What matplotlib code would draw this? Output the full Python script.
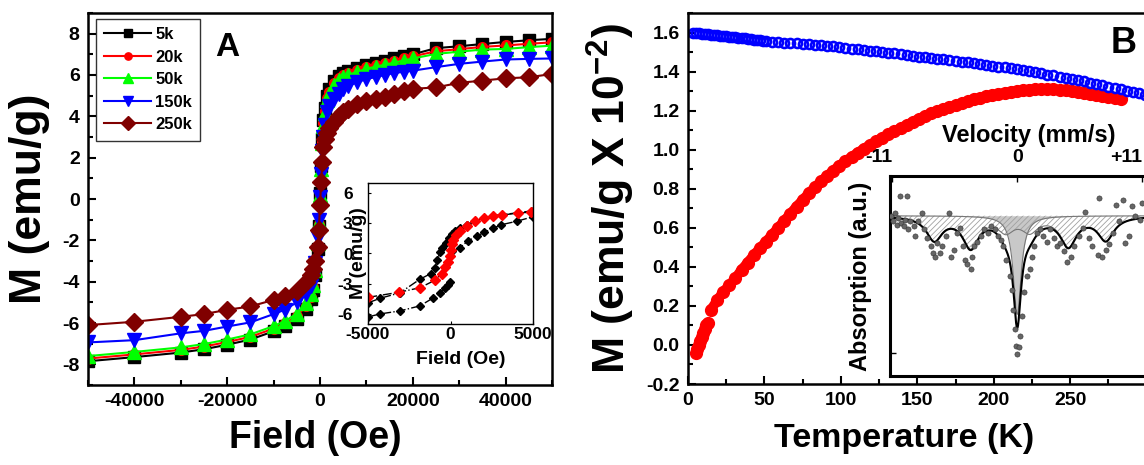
import matplotlib.pyplot as plt
import numpy as np
from matplotlib.ticker import FormatStrFormatter, MultipleLocator

plt.rcParams["font.family"] = ["Liberation Sans", "DejaVu Sans"]
plt.rcParams["font.weight"] = "bold"
plt.rcParams["axes.labelweight"] = "bold"
plt.rcParams["axes.unicode_minus"] = False
plt.rcParams["mathtext.fontset"] = "custom"
plt.rcParams["mathtext.rm"] = "Liberation Sans:bold"
plt.rcParams["mathtext.bf"] = "Liberation Sans:bold"
plt.rcParams["hatch.linewidth"] = 0.6

# ---- (A) M-H loops ----
fields = [-50000, -40000, -30000, -25000, -20000, -15000, -10000, -7500, -5000,
          -3000, -2000, -1500, -1000, -500, -250, 0, 250, 500, 750, 1000, 1500,
          2000, 3000, 4000, 5000, 6000, 8000, 10000, 12000, 14000, 16000, 18000,
          20000, 25000, 30000, 35000, 40000, 45000, 50000]
m_5k = [-7.85, -7.65, -7.43, -7.27, -7.05, -6.80, -6.40, -6.15, -5.80, -5.30,
        -4.85, -4.40, -3.70, -2.40, -1.30, 0.30, 1.60, 2.90, 3.80, 4.40, 5.00,
        5.30, 5.70, 5.95, 6.10, 6.20, 6.35, 6.50, 6.60, 6.70, 6.80, 6.90, 7.00,
        7.30, 7.39, 7.50, 7.60, 7.68, 7.75]
m_20k = [-7.72, -7.52, -7.30, -7.14, -6.92, -6.67, -6.27, -6.02, -5.67, -5.17,
         -4.72, -4.27, -3.57, -2.27, -1.20, 0.25, 1.52, 2.80, 3.68, 4.28, 4.90,
         5.20, 5.60, 5.85, 6.00, 6.10, 6.25, 6.40, 6.50, 6.60, 6.70, 6.80, 6.90,
         7.15, 7.25, 7.36, 7.43, 7.51, 7.58]
m_50k = [-7.60, -7.40, -7.18, -7.02, -6.80, -6.55, -6.15, -5.90, -5.55, -5.05,
         -4.60, -4.15, -3.45, -2.15, -1.10, 0.20, 1.45, 2.70, 3.55, 4.15, 4.80,
         5.10, 5.50, 5.75, 5.90, 6.00, 6.15, 6.30, 6.40, 6.50, 6.60, 6.70, 6.80,
         7.02, 7.13, 7.23, 7.26, 7.35, 7.42]
m_150k = [-6.94, -6.83, -6.50, -6.38, -6.17, -5.97, -5.57, -5.35, -5.00, -4.60,
          -4.20, -3.80, -3.10, -1.90, -1.00, 0.10, 1.20, 2.30, 3.00, 3.60, 4.20,
          4.50, 4.85, 5.10, 5.30, 5.45, 5.65, 5.80, 5.90, 6.00, 6.10, 6.15, 6.21,
          6.38, 6.54, 6.65, 6.75, 6.78, 6.80]
m_250k = [-6.10, -5.94, -5.70, -5.57, -5.36, -5.20, -4.88, -4.68, -4.44, -4.03,
          -3.70, -3.39, -3.00, -2.30, -1.50, -0.30, 0.80, 1.80, 2.50, 2.90, 3.20,
          3.45, 3.72, 4.00, 4.20, 4.36, 4.58, 4.75, 4.85, 4.95, 5.10, 5.22, 5.33,
          5.40, 5.62, 5.73, 5.84, 5.89, 6.05]
loop_labels = ["5k", "20k", "50k", "150k", "250k"]

# low-field inset of panel A
ins_red_h = [-4980, -3100, -1850, -940, -530, -330, -170, -60, 20, 80, 180, 340,
             580, 985, 1490, 2000, 2600, 3100, 4100, 4900]
ins_red_m = [-4.35, -3.84, -3.40, -2.65, -2.00, -1.35, -0.80, -0.20, 0.35, 0.90,
             1.38, 1.87, 2.20, 2.70, 3.20, 3.50, 3.75, 3.80, 4.03, 4.10]
ins_up_h = [5000, 4100, 3100, 2600, 2000, 1490, 985, 580, 300, 100, -100, -300,
            -500, -640, -800, -940, -1200, -1850, -3060, -4270, -5000]
ins_up_m = [4.25, 4.05, 3.85, 3.75, 3.50, 3.25, 2.85, 2.50, 2.20, 1.90, 1.50,
            1.00, 0.50, 0.10, -0.60, -1.40, -2.00, -2.55, -3.90, -4.45, -4.90]
ins_lowl_h = [-5000, -4270, -3060, -1850, -1040, -640, -330, -130, -30]
ins_lowl_m = [-6.30, -6.00, -5.70, -5.20, -4.40, -3.90, -3.45, -3.10, -2.80]
ins_lowr_h = [100, 580, 1060, 1590, 2030, 2580, 3040, 4010, 5000]
ins_lowr_m = [0.20, 0.58, 1.26, 1.71, 2.10, 2.50, 2.84, 3.20, 3.65]

# ---- (B) M-T curves ----
fc_t = [3, 5, 7, 9, 11, 13, 15, 17, 19, 21, 23, 25, 27, 29, 31, 33, 35, 37, 39,
        41, 43, 45, 47, 49, 51, 55, 59, 63, 67, 71, 75, 79, 83, 87, 91, 95, 99,
        103, 107, 111, 115, 119, 123, 127, 131, 135, 139, 143, 147, 151, 155,
        159, 163, 167, 171, 175, 179, 183, 187, 191, 195, 199, 203, 207, 211,
        215, 219, 223, 227, 231, 235, 239, 243, 247, 251, 255, 259, 263, 267,
        271, 275, 279, 283, 287, 291, 295, 299]
fc_m = [1.600, 1.598, 1.597, 1.595, 1.593, 1.591, 1.589, 1.588, 1.586, 1.584,
        1.582, 1.580, 1.579, 1.577, 1.575, 1.573, 1.571, 1.570, 1.568, 1.566,
        1.564, 1.562, 1.561, 1.559, 1.557, 1.553, 1.551, 1.548, 1.546, 1.544,
        1.542, 1.540, 1.537, 1.534, 1.531, 1.529, 1.526, 1.522, 1.518, 1.514,
        1.510, 1.506, 1.503, 1.500, 1.497, 1.494, 1.491, 1.486, 1.482, 1.477,
        1.473, 1.469, 1.465, 1.462, 1.458, 1.455, 1.451, 1.447, 1.443, 1.439,
        1.435, 1.431, 1.426, 1.421, 1.416, 1.411, 1.406, 1.401, 1.396, 1.391,
        1.385, 1.380, 1.374, 1.368, 1.363, 1.357, 1.351, 1.344, 1.337, 1.330,
        1.323, 1.316, 1.309, 1.302, 1.295, 1.288, 1.281]
zfc_low_t = [5, 6, 7, 8, 9, 10, 11, 12, 13]
zfc_low_m = [-0.04, -0.02, 0.00, 0.02, 0.04, 0.06, 0.08, 0.10, 0.11]
zfc_t = [15, 19, 23, 27, 31, 35, 39, 43, 47, 51, 55, 59, 63, 67, 71, 75, 79, 83,
         87, 91, 95, 99, 103, 107, 111, 115, 119, 123, 127, 131, 135, 139, 143,
         147, 151, 155, 159, 163, 167, 171, 175, 179, 183, 187, 191, 195, 199,
         203, 207, 211, 215, 219, 223, 227, 231, 235, 239, 243, 247, 251, 255,
         259, 263, 267, 271, 275, 279, 283]
zfc_m = [0.180, 0.228, 0.272, 0.306, 0.342, 0.385, 0.422, 0.460, 0.496, 0.529,
         0.565, 0.601, 0.637, 0.673, 0.709, 0.743, 0.777, 0.808, 0.838, 0.866,
         0.893, 0.919, 0.942, 0.963, 0.985, 1.005, 1.025, 1.044, 1.062, 1.079,
         1.095, 1.111, 1.127, 1.143, 1.159, 1.173, 1.187, 1.198, 1.208, 1.218,
         1.228, 1.238, 1.248, 1.258, 1.266, 1.273, 1.279, 1.285, 1.291, 1.296,
         1.300, 1.304, 1.307, 1.309, 1.310, 1.310, 1.310, 1.307, 1.304, 1.300,
         1.296, 1.291, 1.285, 1.279, 1.273, 1.269, 1.265, 1.262]
temp_ticks = [0, 50, 100, 150, 200, 250]

# Mossbauer spectrum (inset of panel B)
moss_v = [-11.07, -10.9, -10.8, -10.6, -10.5, -10.3, -10.2, -10.0, -9.9, -9.7,
          -9.6, -9.4, -9.1, -9.0, -8.7, -8.4, -8.2, -7.9, -7.6, -7.4, -7.2,
          -7.05, -6.8, -6.6, -6.3, -6.0, -5.8, -5.6, -5.3, -5.0, -4.8, -4.6,
          -4.4, -4.1, -4.0, -3.8, -3.5, -3.2, -2.9, -2.6, -2.3, -2.0, -1.7,
          -1.46, -1.25, -0.95, -0.65, -0.5, -0.36, -0.2, -0.12, 0.0, 0.15, 0.27,
          0.45, 0.62, 0.83, 1.13, 1.28, 1.5, 1.7, 2.0, 2.3, 2.6, 2.9, 3.2, 3.5,
          3.8, 4.1, 4.4, 4.7, 5.0, 5.45, 5.75, 6.0, 6.3, 6.6, 7.1, 7.2, 7.5,
          7.8, 8.1, 8.4, 8.7, 9.0, 9.3, 9.5, 9.8, 10.1, 10.4, 10.8, 11.0]
moss_a = [-0.005, -0.04, 0.02, -0.066, -0.017, 0.146, -0.054, -0.078, -0.029,
          0.146, -0.10, -0.04, -0.078, -0.15, -0.04, 0.02, -0.10, -0.16, -0.22,
          -0.27, -0.30, -0.20, -0.27, -0.22, -0.15, 0.02, -0.30, -0.25, -0.127,
          -0.09, -0.22, -0.32, -0.35, -0.39, -0.30, -0.22, -0.19, -0.15, -0.10,
          -0.127, -0.078, -0.10, -0.15, -0.175, -0.22, -0.32, -0.44, -0.54,
          -0.69, -0.83, -0.95, -1.01, -0.96, -0.88, -0.73, -0.56, -0.44, -0.39,
          -0.30, -0.22, -0.127, -0.10, -0.15, -0.19, -0.10, -0.16, -0.22, -0.20,
          -0.26, -0.34, -0.30, -0.22, -0.15, -0.09, 0.03, -0.16, -0.22, -0.285,
          0.13, -0.30, -0.25, -0.21, -0.127, 0.08, -0.04, 0.117, -0.20, -0.15,
          0.068, -0.005, -0.03, 0.09]
vel_ticks = [-11, 0, 11]
vel_labels = ["-11", "0", "+11"]
# fitted components: magnetic sextet and central singlet (Lorentzian lines)
sextet_pos = [-7.3, -4.1, -1.0, 1.1, 4.5, 7.8]
sextet_depth = [0.17, 0.22, 0.10, 0.10, 0.21, 0.17]
sextet_hwhm = 0.85
singlet_pos = [0.0]
singlet_depth = [0.72]
singlet_hwhm = 0.42

FIG_W, FIG_H = 1144, 465


def px_axes(fig, left, top, right, bottom):
    return fig.add_axes([left / FIG_W, (FIG_H - bottom) / FIG_H,
                         (right - left) / FIG_W, (bottom - top) / FIG_H])


def lorentz_sum(v, pos, depth, hwhm):
    out = np.zeros_like(v)
    for p, d in zip(pos, depth):
        out -= d / (1 + ((v - p) / hwhm) ** 2)
    return out


def style_main(ax):
    for s in ax.spines.values():
        s.set_linewidth(1.8)
    ax.tick_params(which="both", direction="in", top=False, right=False,
                   labelsize=14, width=1.5)
    ax.tick_params(which="major", length=6, pad=6)
    ax.tick_params(which="minor", length=3.5)


fig = plt.figure(figsize=(FIG_W / 100, FIG_H / 100), dpi=100)

# ---------------- panel A ----------------
axA = px_axes(fig, 88, 13, 552, 385)
styles = [("s", "#000000", 8), ("o", "#ff0000", 7), ("^", "#00ff00", 10),
          ("v", "#0000ff", 10), ("D", "#800000", 9)]
for m_vals, label, (mk, col, ms) in zip([m_5k, m_20k, m_50k, m_150k, m_250k],
                                        loop_labels, styles):
    axA.plot(fields, m_vals, color=col, marker=mk, ms=ms, lw=1.5, mec=col,
             label=label)
axA.set_xlim(-50000, 50000)
axA.set_ylim(-9, 9)
axA.xaxis.set_major_locator(MultipleLocator(20000))
axA.xaxis.set_minor_locator(MultipleLocator(10000))
axA.yaxis.set_major_locator(MultipleLocator(2))
axA.yaxis.set_minor_locator(MultipleLocator(1))
style_main(axA)
axA.set_xlabel("Field (Oe)", fontsize=27)
axA.set_ylabel("M (emu/g)", fontsize=32)
axA.xaxis.set_label_coords(0.49, -0.095)
axA.yaxis.set_label_coords(-0.082, 0.5)
leg = axA.legend(loc="upper left", bbox_to_anchor=(0.017, 0.984),
                 borderaxespad=0, fontsize=12, handlelength=2.8,
                 handletextpad=0.25, labelspacing=0.45, borderpad=0.5,
                 markerscale=0.75, fancybox=False, frameon=True)
leg.get_frame().set_edgecolor("black")
leg.get_frame().set_linewidth(1.0)
fig.text(227 / FIG_W, 1 - 48 / FIG_H, "A", fontsize=24, fontweight="bold",
         ha="center", va="center")

# inset of panel A
insA = px_axes(fig, 368, 183, 533, 324)
insA.plot(ins_up_h, ins_up_m, color="black", ls="-.", lw=1.0, marker="D",
          ms=4, mfc="black", mec="black")
insA.plot(ins_lowl_h, ins_lowl_m, color="black", ls="-.", lw=1.0, marker="D",
          ms=4, mfc="black", mec="black")
insA.plot(ins_lowr_h, ins_lowr_m, color="black", ls="-.", lw=1.0, marker="D",
          ms=4, mfc="black", mec="black")
insA.plot(ins_red_h, ins_red_m, color="black", ls="-.", lw=1.0, marker="D",
          ms=5, mfc="#ff0000", mec="#ff0000")
insA.set_xlim(-5000, 5000)
insA.set_ylim(-7, 7)
insA.set_xticks([-5000, 0, 5000])
insA.set_yticks([-6, -3, 0, 3, 6])
for s in insA.spines.values():
    s.set_linewidth(1.0)
insA.tick_params(direction="in", length=2, labelsize=12.5, pad=2)
insA.tick_params(axis="y", pad=11)
insA.set_xlabel("Field (Oe)", fontsize=14)
insA.set_ylabel("M (emu/g)", fontsize=14)
insA.xaxis.set_label_coords(0.56, -0.19)
insA.yaxis.set_label_coords(-0.005, 0.5)

# ---------------- panel B ----------------
axB = px_axes(fig, 688, 13, 1162, 384)
axB.plot(zfc_low_t, zfc_low_m, ls="-", lw=7, marker="o", ms=8.5,
         color="#ff0000", solid_capstyle="round")
axB.plot(zfc_t, zfc_m, ls="-", lw=7, marker="o", ms=8.5, color="#ff0000",
         solid_capstyle="round")
axB.plot(fc_t, fc_m, ls="none", marker="o", ms=6.5, mfc="none", mec="#0000ff",
         mew=1.9)
axB.set_xlim(0, 310)
axB.set_ylim(-0.2, 1.7)
axB.set_xticks(temp_ticks)
axB.xaxis.set_minor_locator(MultipleLocator(25))
axB.yaxis.set_major_locator(MultipleLocator(0.2))
axB.yaxis.set_minor_locator(MultipleLocator(0.1))
axB.yaxis.set_major_formatter(FormatStrFormatter("%.1f"))
style_main(axB)
axB.set_xlabel("Temperature (K)", fontsize=24.5)
axB.set_ylabel(r"M (emu/g X 10$^{\mathbf{-2}}$)", fontsize=32)
axB.xaxis.set_label_coords(0.455, -0.105)
axB.yaxis.set_label_coords(-0.108, 0.5)
fig.text(1124 / FIG_W, 1 - 43 / FIG_H, "B", fontsize=26, fontweight="bold",
         ha="center", va="center")

# Mossbauer inset
insB = px_axes(fig, 890, 176, 1149, 376)
v_grid = np.linspace(-11.2, 11.6, 800)
sextet = lorentz_sum(v_grid, sextet_pos, sextet_depth, sextet_hwhm)
singlet = lorentz_sum(v_grid, singlet_pos, singlet_depth, singlet_hwhm)
insB.fill_between(v_grid, singlet, 0, color="#c8c8c8", lw=0, zorder=1)
insB.fill_between(v_grid, sextet, 0, facecolor="none", edgecolor="#a0a0a0",
                  hatch="//////", lw=0, zorder=1)
insB.plot(v_grid, sextet, color="#777777", lw=0.8, zorder=2)
insB.plot(v_grid, singlet, color="#777777", lw=0.8, zorder=2)
insB.plot(v_grid, sextet + singlet, color="black", lw=1.5, zorder=3)
insB.scatter(moss_v, moss_a, s=14, color="#666666", edgecolors="#333333",
             linewidths=0.4, zorder=4)
insB.set_xlim(-11.2, 11.6)
insB.set_ylim(-1.17, 0.29)
insB.xaxis.tick_top()
insB.xaxis.set_label_position("top")
insB.set_xticks(vel_ticks)
insB.set_xticklabels(vel_labels)
for lbl, ha in zip(insB.get_xticklabels(), ["right", "center", "right"]):
    lbl.set_ha(ha)
insB.set_yticks([-1.0])
insB.set_yticklabels([])
for s in insB.spines.values():
    s.set_linewidth(2.2)
insB.tick_params(direction="in", length=4, width=1.0, labelsize=14, pad=7)
insB.set_xlabel("Velocity (mm/s)", fontsize=17)
insB.set_ylabel("Absorption (a.u.)", fontsize=17)
insB.xaxis.set_label_coords(0.537, 1.17)
insB.yaxis.set_label_coords(-0.07, 0.5)

fig.savefig("out.png", dpi=100)
